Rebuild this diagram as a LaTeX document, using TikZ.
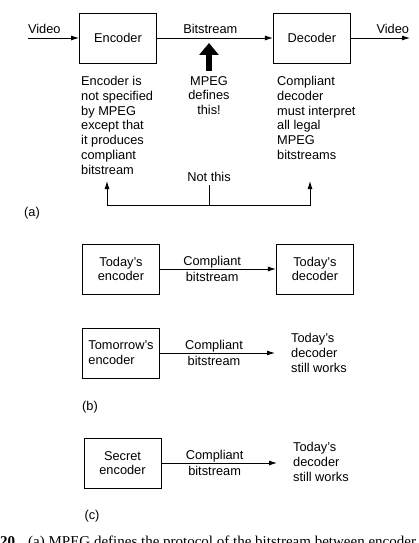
\documentclass[tikz,border=0pt]{standalone}
\usepackage{fontspec}
\setmainfont{Liberation Sans}
\newfontfamily\captionfont{Liberation Serif}
\usetikzlibrary{arrows.meta, positioning}

\begin{document}
\begin{tikzpicture}[
    x=1pt, y=-1pt,
    node distance=116pt,
    every node/.style={font=\fontsize{12.8}{14.8}\selectfont},
    box/.style={rectangle, draw=black, line width=0.9pt, minimum width=77pt,
                minimum height=50pt, align=center, inner sep=2pt},
    note/.style={inner sep=0pt, align=left},
    tag/.style={inner sep=0pt},
    arrow/.style={-{Latex[length=8pt, width=5pt]}, line width=0.9pt},
    bigarrow/.style={-{Triangle[length=12pt, width=19pt]}, line width=6pt}
]
\useasboundingbox (0,0) rectangle (419,543);

% (a) encoder -- bitstream -- decoder
\node[box] (enc) at (118,38) {Encoder};
\node[box, right=116pt of enc] (dec) {Decoder};
\coordinate (src) at (28,38);
\coordinate (sink) at (410,38);
\draw[arrow] (src) -- node[above, pos=0.32, inner sep=4pt] (vidin) {Video} (enc);
\draw[arrow] (enc) -- node[above, pos=0.46, inner sep=4pt] (bits) {Bitstream} (dec);
\draw[arrow] (dec) -- node[above, pos=0.71, inner sep=4pt] (vidout) {Video} (sink);

\node[note, align=center, anchor=north] (defines) at (209,76) {MPEG\\defines\\this!};
\draw[bigarrow] ([yshift=5pt]defines.north) -- ++(0,-28);

\node[note, anchor=north west] (encnote) at (81,76)
    {Encoder is\\not specified\\by MPEG\\except that\\it produces\\compliant\\bitstream};
\node[note, anchor=north west] (decnote) at (277,76)
    {Compliant\\decoder\\must interpret\\all legal\\MPEG\\bitstreams};

\node (nothis) at (209,177) {Not this};
\coordinate (join) at (209,205);
\coordinate (enctip) at (107,181);
\coordinate (dectip) at (310,181);
\draw[line width=0.9pt] (nothis.south) -- (join);
\draw[arrow] (join) -| (enctip);
\draw[arrow] (join) -| (dectip);
\node[tag] (taga) at (32,213) {(a)};

% (b)
\node[box] (todayenc) at (121,269) {Today's\\encoder};
\node[box, right=116pt of todayenc] (todaydec) {Today's\\decoder};
\draw[arrow] (todayenc) -- node[pos=0.45, align=center] (bits1) {Compliant\\[2pt]bitstream} (todaydec);

\node[box, align=left] (tomenc) at (121,353) {Tomorrow's\\encoder};
\coordinate (tomend) at (275,353);
\draw[arrow] (tomenc) -- node[pos=0.47, align=center] (bits2) {Compliant\\[2pt]bitstream} (tomend);
\node[note, anchor=north west] (tomdec) at (291,333) {Today's\\decoder\\still works};
\node[tag] (tagb) at (90,407) {(b)};

% (c)
\node[box] (secenc) at (122.5,463) {Secret\\encoder};
\coordinate (secend) at (277,463);
\draw[arrow] (secenc) -- node[pos=0.46, align=center] (bits3) {Compliant\\[2pt]bitstream} (secend);
\node[note, anchor=north west] (secdec) at (293,442.5) {Today's\\decoder\\still works};
\node[tag] (tagc) at (92,516) {(c)};

% cut-off caption
\begin{scope}
\clip (0,0) rectangle (419,543);
\node[anchor=base west, inner sep=0pt, font=\captionfont\fontsize{15}{17}\selectfont] (caption) at (0,546)
    {\textbf{20}\hspace{13pt}(a) MPEG defines the protocol of the bitstream between encoder a};
\end{scope}
\end{tikzpicture}
\end{document}
